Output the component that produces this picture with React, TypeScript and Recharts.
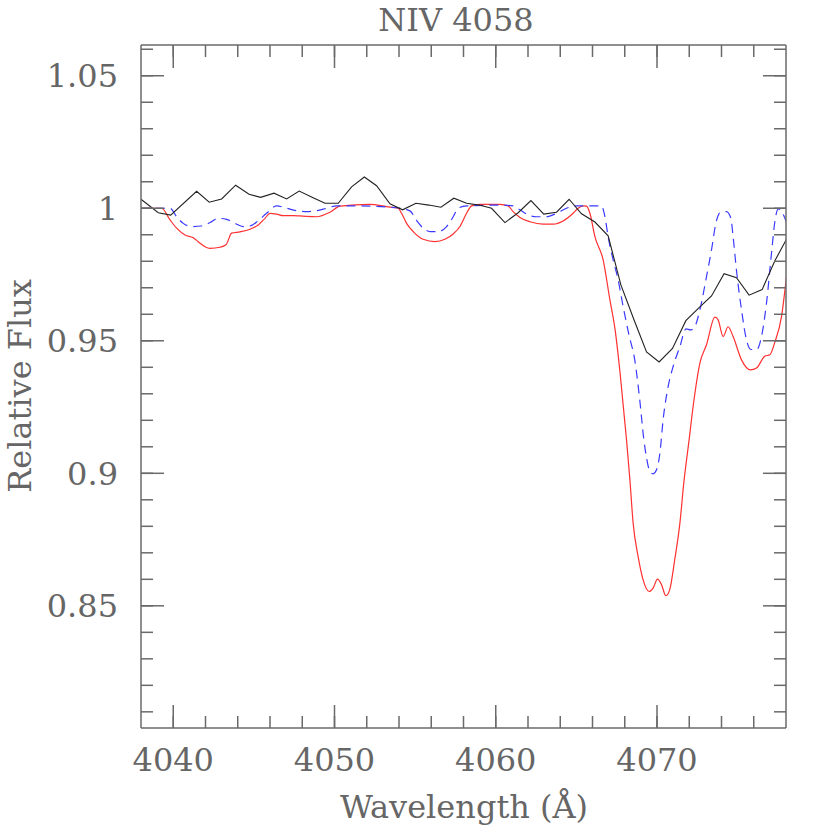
import React from "react";
import { LineChart, Line, XAxis, YAxis } from "recharts";

const X_DOMAIN: [number, number] = [4038, 4078];
const Y_DOMAIN: [number, number] = [0.8039, 1.0616];

const xMajorTicks = [4040, 4050, 4060, 4070];
const xMinorTicks = [4040, 4042, 4044, 4046, 4048, 4050, 4052, 4054, 4056, 4058, 4060, 4062, 4064, 4066, 4068, 4070, 4072, 4074, 4076];
const yMajorTicks = [0.85, 0.9, 0.95, 1.0, 1.05];
const yMinorTicks = [0.81, 0.82, 0.83, 0.84, 0.85, 0.86, 0.87, 0.88, 0.89, 0.9, 0.91, 0.92, 0.93, 0.94, 0.95, 0.96, 0.97, 0.98, 0.99, 1.0, 1.01, 1.02, 1.03, 1.04, 1.05, 1.06];
const yTickLabels: Record<string, string> = { "0.85": "0.85", "0.9": "0.9", "0.95": "0.95", "1": "1", "1.05": "1.05" };

// Observed spectrum (black, solid)
const obsWave = [4038.0, 4039.07, 4039.84, 4041.45, 4042.23, 4043.0, 4043.87, 4044.7, 4045.42, 4046.25, 4047.03, 4047.81, 4048.64, 4049.41, 4050.23, 4051.06, 4051.85, 4052.61, 4053.44, 4054.22, 4055.05, 4055.85, 4056.6, 4057.4, 4058.19, 4058.97, 4059.74, 4060.57, 4061.39, 4062.18, 4062.98, 4063.77, 4064.55, 4065.32, 4066.15, 4066.97, 4067.76, 4068.56, 4069.35, 4070.13, 4070.96, 4071.79, 4072.58, 4073.38, 4074.16, 4074.93, 4075.71, 4076.52, 4077.31, 4078.03];
const obsFlux = [1.0034, 0.9983, 0.9974, 1.0064, 1.0023, 1.0035, 1.0087, 1.0053, 1.0041, 1.0057, 1.0035, 1.0065, 1.0041, 1.0019, 1.0019, 1.0081, 1.0118, 1.0085, 1.0017, 0.9994, 1.0019, 1.0012, 1.0004, 1.0038, 1.0019, 1.0012, 1.0, 0.9946, 0.9983, 1.0029, 0.9978, 0.9985, 1.0034, 0.9979, 0.9948, 0.9896, 0.9711, 0.9581, 0.9458, 0.942, 0.9471, 0.9576, 0.9623, 0.9669, 0.9753, 0.9738, 0.9672, 0.9693, 0.9802, 0.9883];

// Model 1 (red, solid)
const redWave = [4038.0, 4039.28, 4039.8, 4040.21, 4040.73, 4041.24, 4041.55, 4041.97, 4042.28, 4042.9, 4043.27, 4043.62, 4044.14, 4044.76, 4045.27, 4045.69, 4046.0, 4046.41, 4046.82, 4047.44, 4047.86, 4048.89, 4049.72, 4050.34, 4052.2, 4053.23, 4053.95, 4054.16, 4054.47, 4054.88, 4055.5, 4056.23, 4056.85, 4057.36, 4057.78, 4058.19, 4058.5, 4059.02, 4060.26, 4060.77, 4061.08, 4061.5, 4062.12, 4062.94, 4063.56, 4064.18, 4064.8, 4065.11, 4065.42, 4065.63, 4065.84, 4066.15, 4066.66, 4067.08, 4067.39, 4067.7, 4068.11, 4068.32, 4068.52, 4068.83, 4069.14, 4069.51, 4069.76, 4070.03, 4070.28, 4070.55, 4070.79, 4071.1, 4071.42, 4071.66, 4071.99, 4072.24, 4072.66, 4073.07, 4073.59, 4073.79, 4074.1, 4074.41, 4074.72, 4075.24, 4075.8, 4076.17, 4076.69, 4077.0, 4077.31, 4077.72, 4078.03];
const redFlux = [1.0, 1.0, 0.9956, 0.9925, 0.9899, 0.9889, 0.9874, 0.9855, 0.9849, 0.9853, 0.9862, 0.9906, 0.9911, 0.9921, 0.9937, 0.9962, 0.9981, 0.9978, 0.9972, 0.9972, 0.9971, 0.9968, 0.9985, 1.0008, 1.0015, 1.0006, 1.0, 0.9981, 0.9943, 0.9912, 0.9883, 0.9874, 0.9883, 0.9903, 0.9931, 0.9981, 1.0009, 1.0015, 1.0015, 1.0009, 0.9987, 0.9965, 0.9949, 0.994, 0.994, 0.9952, 0.9981, 1.0, 1.0009, 1.0008, 0.9981, 0.9893, 0.9805, 0.9654, 0.9547, 0.9385, 0.9126, 0.8975, 0.8812, 0.8686, 0.8598, 0.8554, 0.8567, 0.8601, 0.858, 0.8538, 0.8561, 0.8674, 0.8812, 0.8963, 0.9126, 0.9252, 0.9416, 0.9485, 0.9589, 0.9579, 0.9516, 0.9553, 0.9516, 0.9428, 0.939, 0.9397, 0.9442, 0.9447, 0.9495, 0.9591, 0.9742];

// Model 2 (blue, dashed)
const blueWave = [4038.0, 4039.8, 4040.21, 4040.62, 4041.14, 4041.76, 4042.28, 4042.79, 4043.31, 4043.83, 4044.34, 4044.76, 4045.27, 4045.79, 4046.41, 4047.03, 4047.65, 4048.27, 4048.89, 4049.51, 4050.13, 4051.37, 4053.85, 4054.68, 4055.09, 4055.5, 4055.92, 4056.43, 4056.95, 4057.36, 4057.67, 4058.19, 4060.26, 4061.08, 4061.5, 4062.01, 4062.53, 4063.15, 4063.77, 4064.39, 4065.01, 4066.25, 4066.56, 4066.77, 4066.97, 4067.28, 4067.59, 4067.9, 4068.27, 4068.62, 4068.93, 4069.17, 4069.36, 4069.56, 4069.76, 4069.97, 4070.18, 4070.38, 4070.69, 4071.0, 4071.42, 4071.8, 4072.08, 4072.34, 4072.66, 4073.07, 4073.38, 4073.65, 4073.9, 4074.31, 4074.58, 4074.72, 4074.93, 4075.24, 4075.55, 4075.8, 4076.17, 4076.48, 4076.79, 4077.1, 4077.31, 4077.52, 4077.79, 4078.03];
const blueFlux = [1.0, 1.0, 0.9968, 0.9943, 0.9931, 0.9933, 0.9946, 0.9962, 0.9958, 0.9943, 0.9931, 0.9933, 0.9953, 0.9981, 1.0009, 1.0, 0.9991, 0.9987, 0.9991, 1.0, 1.0009, 1.0009, 1.0002, 0.9990, 0.9954, 0.9925, 0.9912, 0.9912, 0.9931, 0.9968, 1.0, 1.0009, 1.0012, 1.0009, 0.9994, 0.9975, 0.9968, 0.9968, 0.9981, 1.0, 1.0009, 1.0009, 1.0009, 0.9968, 0.9893, 0.9805, 0.973, 0.9629, 0.952, 0.9428, 0.9277, 0.9135, 0.9055, 0.9007, 0.8998, 0.9013, 0.9076, 0.9202, 0.9327, 0.9403, 0.9478, 0.9545, 0.9541, 0.9553, 0.9617, 0.9742, 0.9843, 0.9943, 0.9983, 0.9987, 0.9962, 0.9893, 0.9765, 0.9617, 0.9503, 0.9468, 0.9466, 0.9516, 0.9642, 0.983, 0.995, 0.9998, 0.9981, 0.9946];

const toSeries = (w: number[], f: number[]) => w.map((v, i) => ({ w: v, f: f[i] }));
const obsData = toSeries(obsWave, obsFlux);
const redData = toSeries(redWave, redFlux);
const blueData = toSeries(blueWave, blueFlux);

const FONT = "'DejaVu Serif', serif";
const TEXT_COLOR = "#666";
const FRAME = "#6a6a6a";
const FS = 32;
const THIN = 0.01;

const YTick = (props: any) => {
  const { x, y, payload } = props;
  const key = String(Number(payload.value.toFixed(2)));
  return (
    <text x={x} y={y} dy={FS * 0.36} textAnchor="end" fontFamily={FONT} fontSize={FS} fill={TEXT_COLOR}>
      {yTickLabels[key] ?? key}
    </text>
  );
};

const XTick = (props: any) => {
  const { x, y, payload } = props;
  return (
    <text x={x} y={y} dy={FS * 0.73} textAnchor="middle" fontFamily={FONT} fontSize={FS} fill={TEXT_COLOR}>
      {payload.value}
    </text>
  );
};

const NoTick = () => <g />;

export default function App() {
  const W = 830;
  const H = 830;
  const line = { stroke: FRAME, strokeWidth: 1.5 };
  return (
    <div style={{ position: "absolute", left: 0, top: 0, width: W, height: H, background: "#fff" }}>
      <LineChart width={W} height={H} margin={{ top: 45, right: 44, bottom: 0, left: 0 }}>
        {/* label axes */}
        <XAxis xAxisId="x" dataKey="w" type="number" domain={X_DOMAIN} allowDataOverflow ticks={xMajorTicks}
          orientation="bottom" height={102} tickLine={false} axisLine={false} tickSize={0} tickMargin={20} tick={<XTick />} interval={0} />
        <YAxis yAxisId="y" type="number" domain={Y_DOMAIN} allowDataOverflow ticks={yMajorTicks}
          orientation="left" width={141} tickLine={false} axisLine={false} tickSize={0} tickMargin={23} tick={<YTick />} interval={0} />

        {/* frame + inward ticks */}
        <XAxis xAxisId="xbM" dataKey="w" type="number" domain={X_DOMAIN} allowDataOverflow ticks={xMajorTicks} orientation="bottom" mirror height={THIN}
          tick={<NoTick />} tickSize={23} tickLine={line} axisLine={line} interval={0} />
        <XAxis xAxisId="xbm" dataKey="w" type="number" domain={X_DOMAIN} allowDataOverflow ticks={xMinorTicks} orientation="bottom" mirror height={THIN}
          tick={<NoTick />} tickSize={12} tickLine={line} axisLine={false} interval={0} />
        <XAxis xAxisId="xtM" dataKey="w" type="number" domain={X_DOMAIN} allowDataOverflow ticks={xMajorTicks} orientation="top" mirror height={THIN}
          tick={<NoTick />} tickSize={23} tickLine={line} axisLine={line} interval={0} />
        <XAxis xAxisId="xtm" dataKey="w" type="number" domain={X_DOMAIN} allowDataOverflow ticks={xMinorTicks} orientation="top" mirror height={THIN}
          tick={<NoTick />} tickSize={12} tickLine={line} axisLine={false} interval={0} />
        <YAxis yAxisId="ylM" type="number" domain={Y_DOMAIN} allowDataOverflow ticks={yMajorTicks} orientation="left" mirror width={THIN}
          tick={<NoTick />} tickSize={23} tickLine={line} axisLine={line} interval={0} />
        <YAxis yAxisId="ylm" type="number" domain={Y_DOMAIN} allowDataOverflow ticks={yMinorTicks} orientation="left" mirror width={THIN}
          tick={<NoTick />} tickSize={12} tickLine={line} axisLine={false} interval={0} />
        <YAxis yAxisId="yrM" type="number" domain={Y_DOMAIN} allowDataOverflow ticks={yMajorTicks} orientation="right" mirror width={THIN}
          tick={<NoTick />} tickSize={23} tickLine={line} axisLine={line} interval={0} />
        <YAxis yAxisId="yrm" type="number" domain={Y_DOMAIN} allowDataOverflow ticks={yMinorTicks} orientation="right" mirror width={THIN}
          tick={<NoTick />} tickSize={12} tickLine={line} axisLine={false} interval={0} />

        <Line xAxisId="x" yAxisId="y" data={redData} dataKey="f" type="monotone" stroke="#ff3030" strokeWidth={1.2} dot={false} isAnimationActive={false} />
        <Line xAxisId="x" yAxisId="y" data={blueData} dataKey="f" type="monotone" stroke="#3a3aff" strokeWidth={1.2} strokeDasharray="9 6" dot={false} isAnimationActive={false} />
        <Line xAxisId="x" yAxisId="y" data={obsData} dataKey="f" type="linear" stroke="#222" strokeWidth={1.1} dot={false} isAnimationActive={false} />
      </LineChart>
      <svg width={W} height={H} style={{ position: "absolute", left: 0, top: 0, pointerEvents: "none" }}>
        <text x={456} y={31} textAnchor="middle" fontFamily={FONT} fontSize={FS} fill={TEXT_COLOR}>NIV 4058</text>
        <text x={464} y={818} textAnchor="middle" fontFamily={FONT} fontSize={FS} fill={TEXT_COLOR}>Wavelength (Å)</text>
        <text transform="translate(31,386) rotate(-90)" x={0} y={0} textAnchor="middle" fontFamily={FONT} fontSize={FS} fill={TEXT_COLOR}>Relative Flux</text>
      </svg>
    </div>
  );
}
